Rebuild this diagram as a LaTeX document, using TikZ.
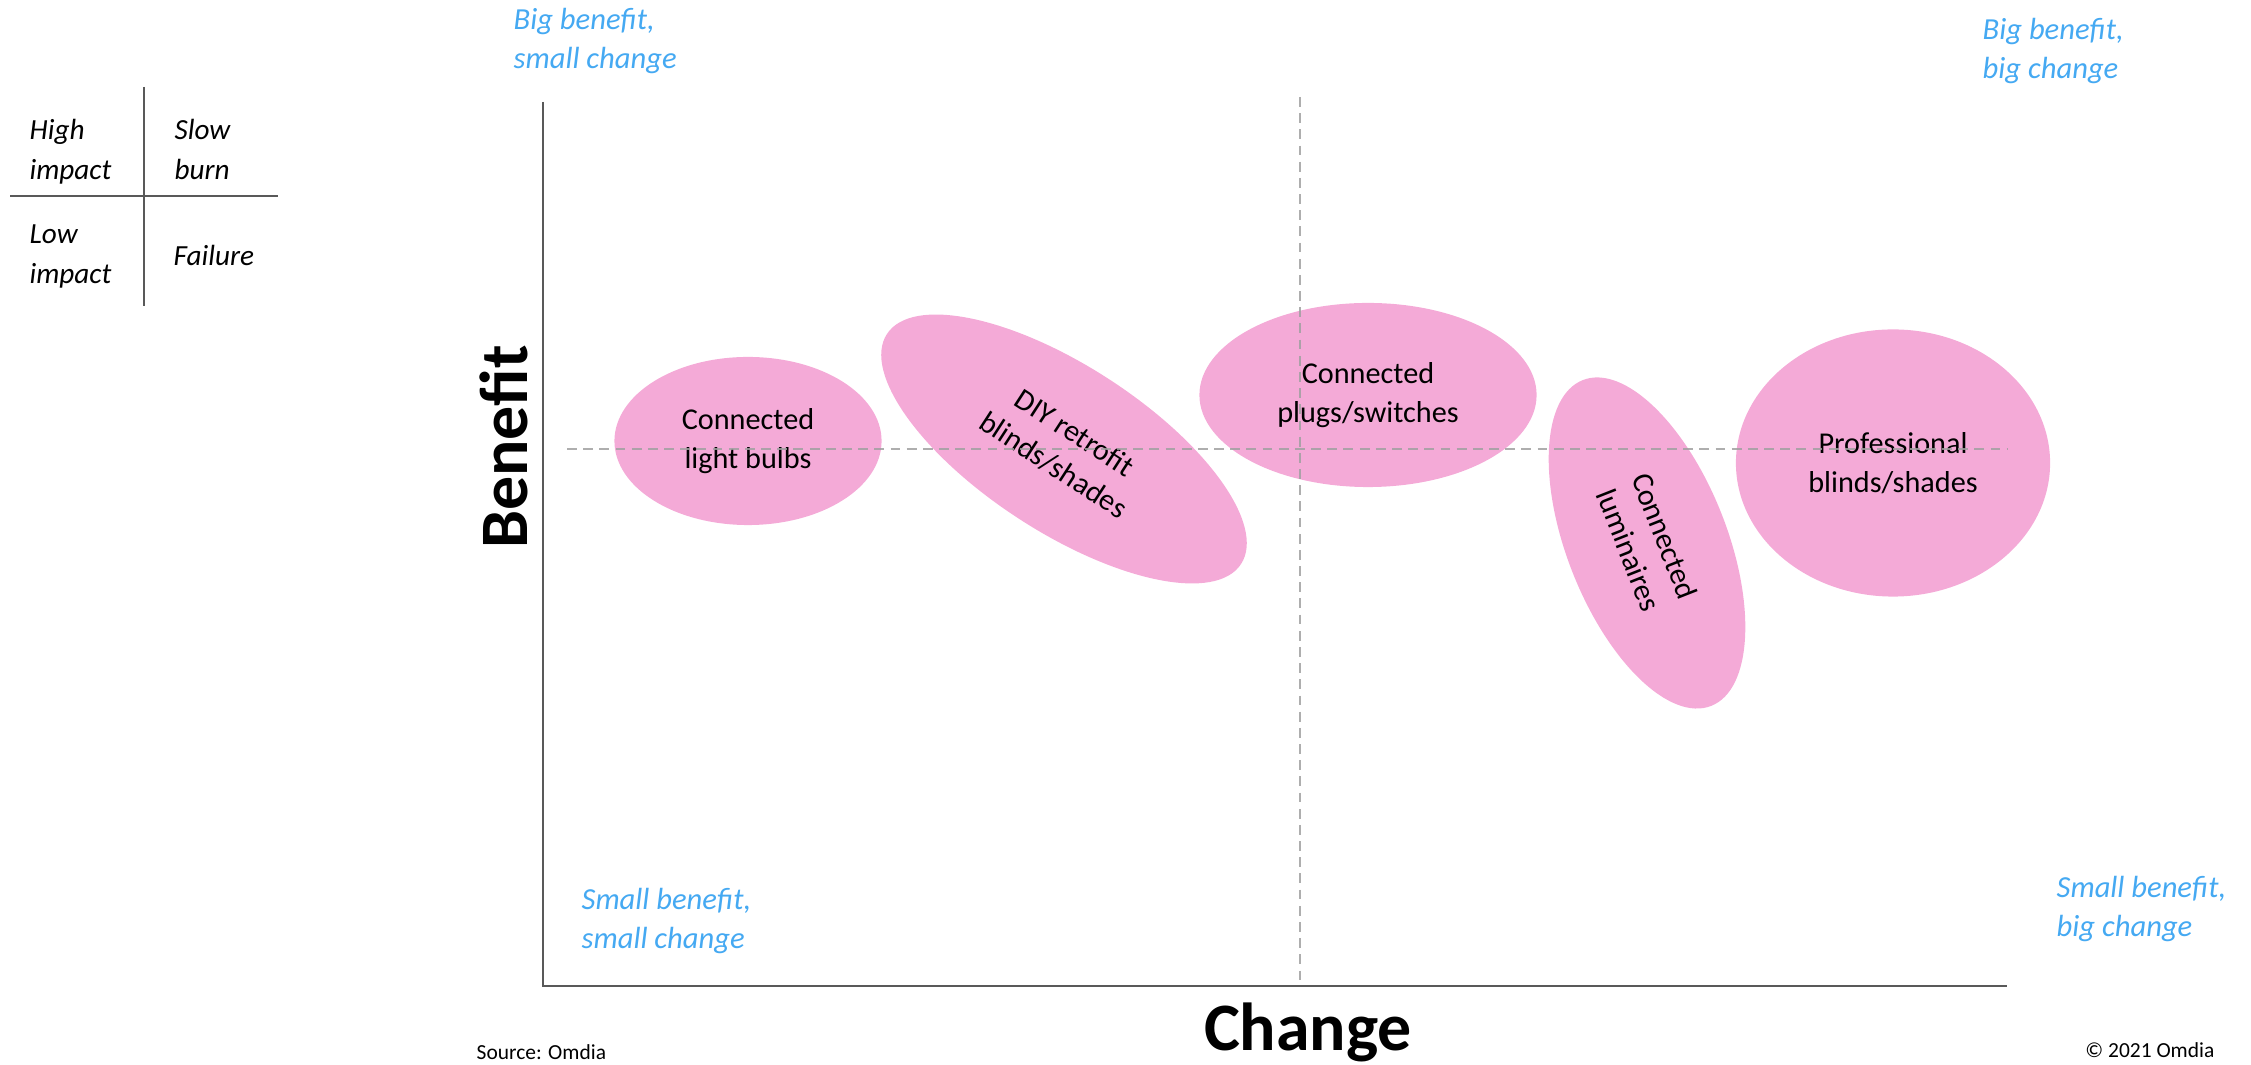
\documentclass[tikz,border=0pt]{standalone}
\usepackage{fontspec}
\setmainfont{Carlito}
\usepackage{xcolor}
\usetikzlibrary{shapes.geometric}

\definecolor{bubblepink}{HTML}{F4AAD7}
\definecolor{quadblue}{HTML}{45A9F2}
\definecolor{guidegray}{HTML}{A0A0A0}
\definecolor{axisgray}{HTML}{595959}

\tikzset{
	bubble/.style={ellipse, fill=bubblepink, inner sep=0pt, align=center,
		font=\fontsize{8.6}{11}\selectfont},
	quadlabel/.style={anchor=base west, inner sep=0pt, align=left, text=quadblue,
		font=\fontsize{8.7}{11.3}\selectfont\itshape},
	keylabel/.style={anchor=base west, inner sep=0pt, align=left,
		font=\fontsize{8.3}{11.4}\selectfont\itshape},
	axistitle/.style={inner sep=0pt, font=\fontsize{19.3}{22}\selectfont\bfseries},
	guide/.style={guidegray, line width=0.4pt, dash pattern=on 2.8pt off 1.8pt, draw opacity=0.85}
}

\begin{document}
\begin{tikzpicture}[x=0.01cm, y=-0.01cm]
		\useasboundingbox (0,0) rectangle (2251,1065);
		
		% Key in the top left corner
		\draw[axisgray, line width=0.45pt] (144,87) -- (144,306);
		\draw[axisgray, line width=0.45pt] (10,196) -- (278,196);
		\node[keylabel] (khigh) at (29,180) {High\\impact};
		\node[keylabel] (kslow) at (174,180) {Slow\\burn};
		\node[keylabel] (klow) at (29,284) {Low\\impact};
		\node[keylabel] (kfail) at (173,266) {Failure};
		
		% Bubbles
		\node[bubble, minimum width=2.67cm, minimum height=1.68cm] (bulbs) at (748,441) {Connected\\light bulbs};
		\node[bubble, rotate=-33, minimum width=4.22cm, minimum height=1.66cm] (diy) at (1064,449) {DIY retrofit\\blinds/shades};
		\node[bubble, minimum width=3.37cm, minimum height=1.84cm] (plugs) at (1368,395) {Connected\\plugs/switches};
		\node[bubble, rotate=-68.5, minimum width=3.5cm, minimum height=1.6cm] (lumin) at (1647,543) {Connected\\luminaires};
		\node[bubble, minimum width=3.14cm, minimum height=2.67cm] (prof) at (1893,463) {Professional\\blinds/shades};
		
		% Axes and dashed quadrant lines
		\draw[axisgray, line width=0.6pt] (543,102) -- (543,986) -- (2007,986);
		\draw[guide] (567,449) -- (2007,449);
		\draw[guide] (1300,97) -- (1300,986);
		
		% Axis titles
		\node[axistitle, rotate=90, anchor=base] (benefit) at (527,447) {Benefit};
		\node[axistitle, anchor=base] (change) at (1308,1051) {Change};
		
		% Quadrant labels
		\node[quadlabel] (qtl) at (513,69) {Big benefit,\\small change};
		\node[quadlabel] (qtr) at (1982,79) {Big benefit,\\big change};
		\node[quadlabel] (qbl) at (581,949) {Small benefit,\\small change};
		\node[quadlabel] (qbr) at (2056,937) {Small benefit,\\big change};
		
		% Footer
		\node[anchor=base west, inner sep=0pt, font=\fontsize{6.1}{7}\selectfont] (source) at (476,1060) {Source: Omdia};
		\node[anchor=base east, inner sep=0pt, font=\fontsize{6.1}{7}\selectfont] (copy) at (2215,1058) {© 2021 Omdia};
	\end{tikzpicture}
\end{document}
